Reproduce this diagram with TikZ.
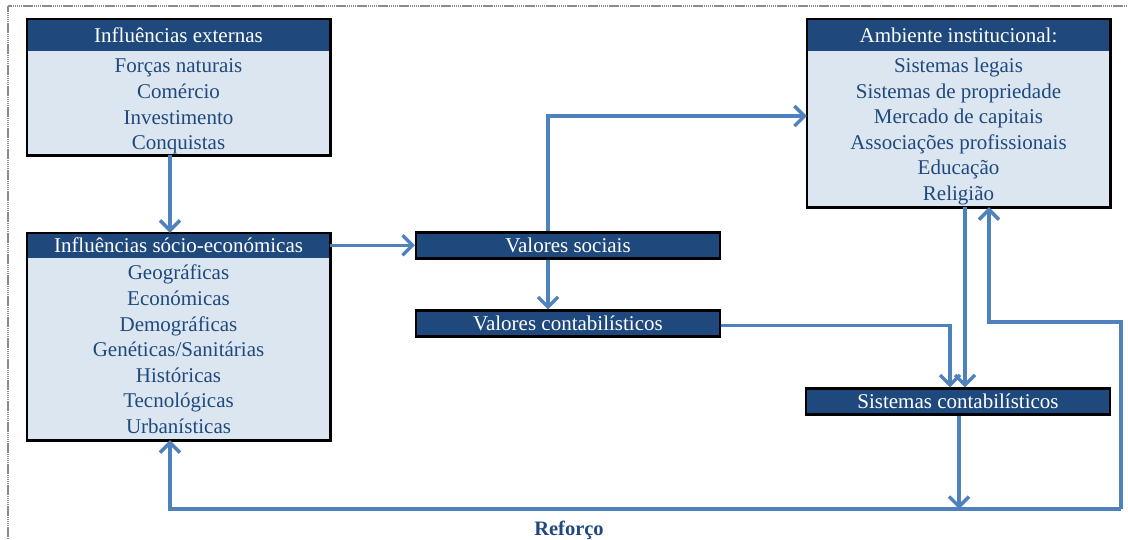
\documentclass[tikz,border=0pt]{standalone}
\usepackage{fontspec}
\setmainfont{Liberation Serif}
\usetikzlibrary{arrows.meta}

\definecolor{hdr}{HTML}{1F497D}
\definecolor{bodyfill}{HTML}{DCE6F1}
\definecolor{link}{HTML}{4F81BD}
\definecolor{pageline}{HTML}{8C8C8C}

\tikzset{
  txt/.style={font=\fontsize{21}{25.6}\selectfont},
  panel/.style={fill=bodyfill, inner sep=0pt, minimum width=303pt},
  panelframe/.style={draw=black, line width=2.6pt},
  headbar/.style={txt, fill=hdr, text=white, inner sep=0pt, anchor=north,
    minimum width=303pt},
  bodytext/.style={txt, text=hdr, align=center, inner sep=0pt},
  stage/.style={txt, fill=hdr, text=white, draw=black, line width=2.2pt,
    inner sep=0pt, minimum width=304pt, minimum height=26pt},
  arr/.style={draw=link, line width=3.4pt,
    -{Straight Barb[length=10pt,width=20pt]}},
}

\begin{document}
\begin{tikzpicture}[x=1pt,y=-1pt]
\useasboundingbox (0,0) rectangle (1128,539);

% page edge
\draw[pageline, line width=1.6pt, dash pattern=on 1.5pt off 0.6pt]
  (8,539) -- (8,6) -- (1128,6);

% external influences
\node[panel, minimum height=136pt] (ext) at (178.5,87) {};
\node[headbar, minimum height=31.5pt] (extH) at (ext.north) {Influências externas};
\node[bodytext] (extB) at (178.5,106.5) {Forças naturais\\Comércio\\Investimento\\Conquistas};
\draw[panelframe] (ext.north west) rectangle (ext.south east);

% socio-economic influences
\node[panel, minimum height=207pt] (socio) at (178.5,336.5) {};
\node[headbar, minimum height=24.5pt] (socioH) at (socio.north) {Influências sócio-económicas};
\node[bodytext] (socioB) at (178.5,349.5) {Geográficas\\Económicas\\Demográficas\\Genéticas/Sanitárias\\Históricas\\Tecnológicas\\Urbanísticas};
\draw[panelframe] (socio.north west) rectangle (socio.south east);

% institutional environment
\node[panel, minimum height=188pt] (amb) at (958.5,113) {};
\node[headbar, minimum height=32pt] (ambH) at (amb.north) {Ambiente institucional:};
\node[bodytext] (ambB) at (958.5,131.5) {Sistemas legais\\Sistemas de propriedade\\Mercado de capitais\\Associações profissionais\\Educação\\Religião};
\draw[panelframe] (amb.north west) rectangle (amb.south east);

% stages
\node[stage] (vs) at (568,245.5) {Valores sociais};
\node[stage] (vc) at (568,323.5) {Valores contabilísticos};
\node[stage] (sc) at (958,401.5) {Sistemas contabilísticos};

% feedback loop corners
\coordinate (rb) at (1121,509);
\coordinate (rm) at (1121,322);

% connectors
\draw[arr] ([xshift=-8.5pt]ext.south) -- ([xshift=-8.5pt]socio.north);
\draw[arr] (socioH.east) -- (socioH.east -| vs.west);
\draw[arr] ([xshift=-20pt]vs.north) |- ([yshift=-3pt]amb.west);
\draw[arr] ([xshift=-20pt]vs.south) -- ([xshift=-20pt]vc.north);
\draw[arr] ([yshift=-2pt]vc.east) -| ([xshift=-8pt]sc.north);
\draw[arr] ([xshift=6.5pt]amb.south) -- ([xshift=6.5pt]amb.south |- sc.north);
\draw[arr] ([xshift=1pt]sc.south) -- ([xshift=1pt]sc.south |- rb);
\draw[arr] (rb) -- (rm) -| ([xshift=30.5pt]amb.south);
\draw[arr] (rb) -| ([xshift=-8.5pt]socio.south);

\node[txt, font=\fontsize{20.5}{24}\selectfont\bfseries, text=hdr] (ref) at (569,530) {Reforço};
\end{tikzpicture}
\end{document}
